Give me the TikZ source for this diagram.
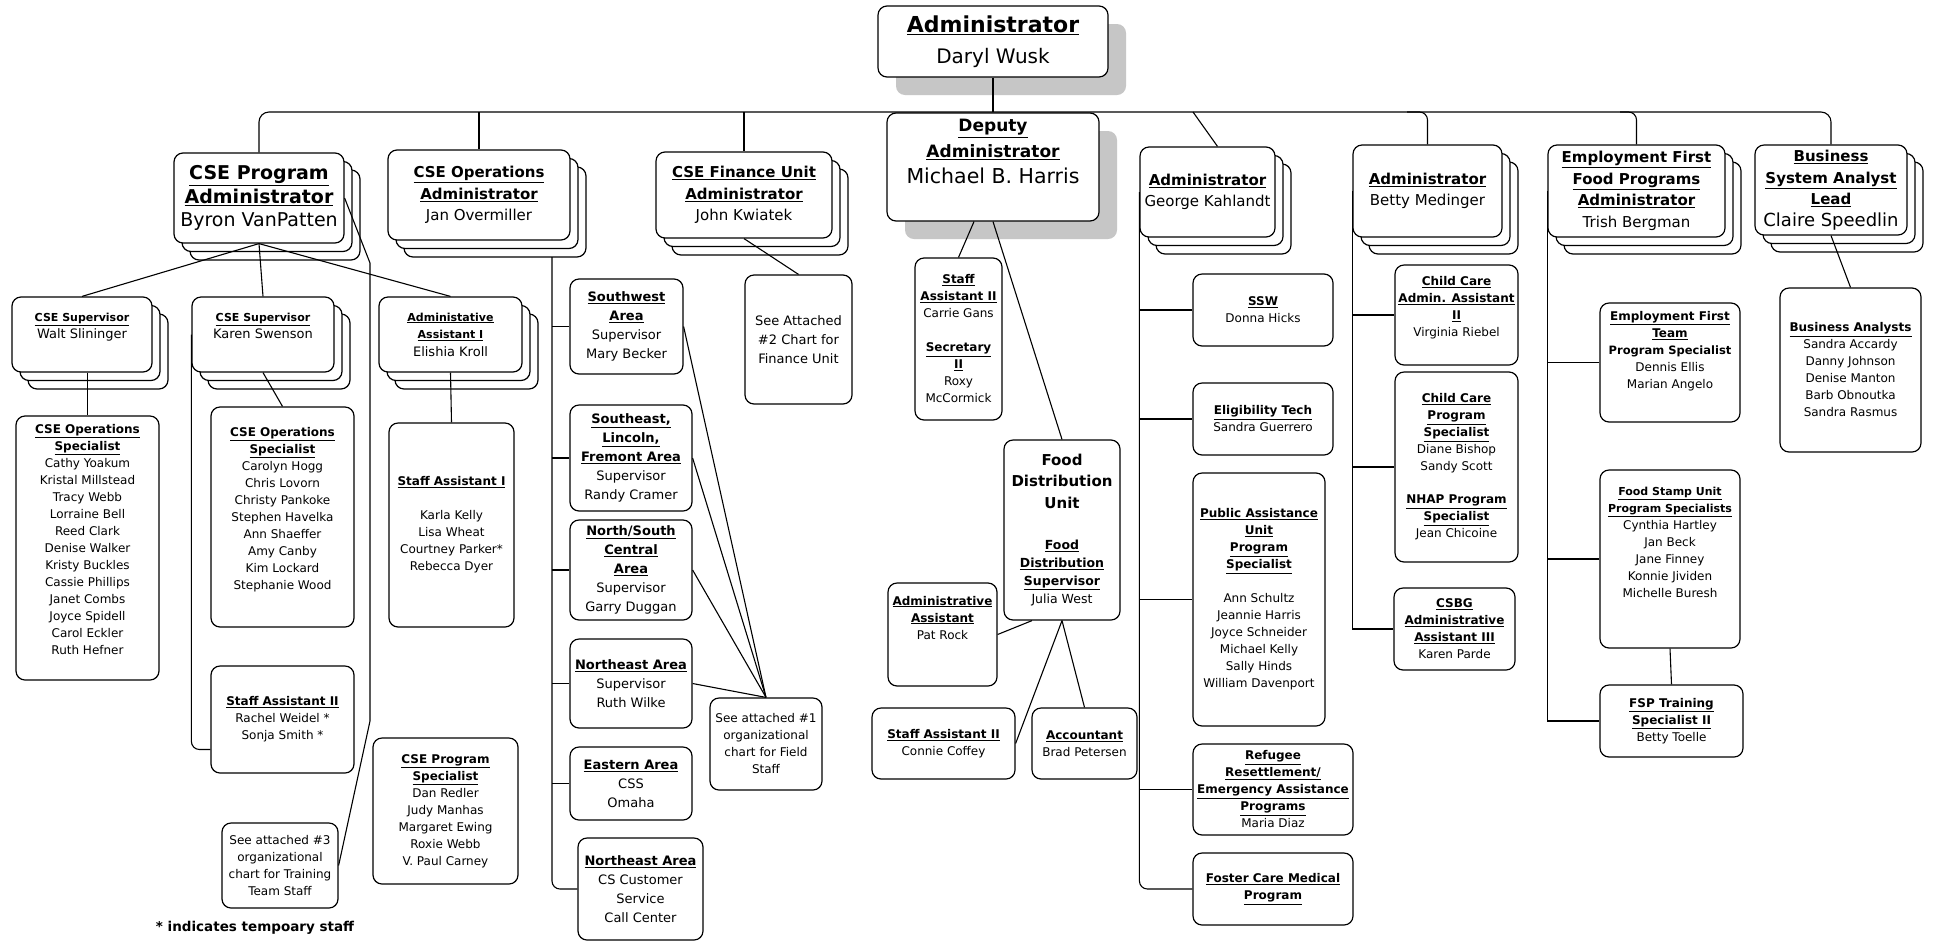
\documentclass[tikz,border=0pt]{standalone}
\usepackage{fontspec}
\setmainfont{DejaVu Sans}
\usetikzlibrary{shadows}
\newcommand{\hd}[1]{\underline{\textbf{#1}}}
\newcommand{\hdat}[2]{{\fontsize{#1}{#1}\selectfont\hd{#2}}}
\newcommand{\bighd}[1]{{\fontsize{15}{18}\selectfont\bfseries #1}}
\begin{document}
\begin{tikzpicture}[x=1pt, y=-1pt,
        box/.style={draw, line width=1.2pt, rounded corners=9pt, fill=white, align=center, inner sep=2pt},
        dims/.style 2 args={minimum width=#1pt, minimum height=#2pt},
        pile/.style={general shadow={shadow xshift=16pt, shadow yshift=-17pt, fill=white, draw, line width=1.2pt},
                     general shadow={shadow xshift=8pt, shadow yshift=-8.5pt, fill=white, draw, line width=1.2pt}},
        lift/.style={drop shadow={shadow xshift=18pt, shadow yshift=-18pt, fill=gray!45, opacity=1}},
        chief/.style={box, font=\fontsize{20}{31}\selectfont},
        lead/.style={box, pile, font=\fontsize{15}{21.5}\selectfont},
        sup/.style={box, pile, font=\fontsize{13}{17.5}\selectfont},
        area/.style={box, font=\fontsize{13}{19}\selectfont},
        unit/.style={box, font=\fontsize{12}{17}\selectfont},
        conn/.style={line width=1.1pt}
    ]
        \fill[white] (0,0) rectangle (1934,946);

        % Top
        \node[chief, lift, dims={230}{71}] (admin) at (993,41.5) {\hdat{22}{Administrator}\\Daryl Wusk};
        \node[chief, lift, dims={212}{108}, font=\fontsize{20.5}{26}\selectfont] (deputy) at (993,167)
            {\hdat{17}{Deputy}\\\hdat{17}{Administrator}\\Michael B. Harris\\[5pt]\mbox{}};

        % Administrators
        \node[lead, dims={170}{90}, font=\fontsize{19}{23.5}\selectfont] (prog) at (259,198) {\hd{CSE Program}\\\hd{Administrator}\\Byron VanPatten};
        \node[lead, dims={182}{90}] (ops) at (479,195) {\hd{CSE Operations}\\\hd{Administrator}\\Jan Overmiller};
        \node[lead, dims={176}{86}] (fin) at (744,195) {\hd{CSE Finance Unit}\\\hd{Administrator}\\John Kwiatek};
        \node[lead, dims={135}{90}] (george) at (1207.5,192) {\hd{Administrator}\\George Kahlandt};
        \node[lead, dims={149}{92}] (betty) at (1427.5,191) {\hd{Administrator}\\Betty Medinger};
        \node[lead, dims={177}{92}] (trish) at (1636.5,191) {\hd{Employment First}\\\hd{Food Programs}\\\hd{Administrator}\\Trish Bergman};
        \node[lead, dims={152}{90}] (claire) at (1831,190) {\hd{Business}\\\hd{System Analyst}\\\hd{Lead}\\{\fontsize{18}{18}\selectfont Claire Speedlin}};

        % CSE Program
        \node[sup, dims={140}{75}] (walt) at (82,334.5) {\hdat{11}{CSE Supervisor}\\Walt Slininger\\\mbox{}};
        \node[sup, dims={142}{75}] (karen) at (263,334.5) {\hdat{11}{CSE Supervisor}\\Karen Swenson\\\mbox{}};
        \node[sup, dims={143}{75}] (eli) at (450.5,334.5) {\hdat{11}{Administative}\\\hdat{11}{Assistant I}\\Elishia Kroll};
        \node[unit, dims={143}{264}] (wspec) at (87.5,548) {\hd{CSE Operations}\\\hd{Specialist}\\Cathy Yoakum\\Kristal Millstead\\Tracy Webb\\Lorraine Bell\\Reed Clark\\Denise Walker\\Kristy Buckles\\Cassie Phillips\\Janet Combs\\Joyce Spidell\\Carol Eckler\\Ruth Hefner\\\mbox{}};
        \node[unit, dims={143}{220}] (kspec) at (282.5,517) {\hd{CSE Operations}\\\hd{Specialist}\\Carolyn Hogg\\Chris Lovorn\\Christy Pankoke\\Stephen Havelka\\Ann Shaeffer\\Amy Canby\\Kim Lockard\\Stephanie Wood\\\mbox{}};
        \node[unit, dims={143}{107}] (sa2) at (282.5,719.5) {\hd{Staff Assistant II}\\Rachel Weidel *\\Sonja Smith *};
        \node[unit, dims={116}{85}] (see3) at (280,865.5) {See attached \#3\\organizational\\chart for Training\\Team Staff};
        \node[unit, dims={125}{204}] (sa1) at (451.5,525) {\hd{Staff Assistant I}\\[17pt]Karla Kelly\\Lisa Wheat\\Courtney Parker*\\Rebecca Dyer};
        \node[unit, dims={145}{146}] (pspec) at (445.5,811) {\hd{CSE Program}\\\hd{Specialist}\\Dan Redler\\Judy Manhas\\Margaret Ewing\\Roxie Webb\\V. Paul Carney};
        \node[font=\fontsize{13.5}{16}\selectfont\bfseries] (note) at (255,928) {* indicates tempoary staff};

        % CSE Operations areas
        \node[area, dims={113}{95}] (sw) at (626.5,326.5) {\hd{Southwest}\\\hd{Area}\\Supervisor\\Mary Becker};
        \node[area, dims={122}{106}] (se) at (631,458) {\hd{Southeast,}\\\hd{Lincoln,}\\\hd{Fremont Area}\\Supervisor\\Randy Cramer};
        \node[area, dims={122}{100}] (ns) at (631,570) {\hd{North/South}\\\hd{Central}\\\hd{Area}\\Supervisor\\Garry Duggan};
        \node[area, dims={122}{89}] (ruth) at (631,683.5) {\hd{Northeast Area}\\Supervisor\\Ruth Wilke};
        \node[area, dims={122}{73}] (eastern) at (631,783.5) {\hd{Eastern Area}\\CSS\\Omaha};
        \node[area, dims={125}{102}] (necs) at (640.5,889) {\hd{Northeast Area}\\CS Customer\\Service\\Call Center};
        \node[unit, dims={112}{92}] (see1) at (766,744) {See attached \#1\\organizational\\chart for Field\\Staff};
        \node[area, dims={107}{129}] (see2) at (798.5,339.5) {See Attached\\\#2 Chart for\\Finance Unit};

        % Deputy staff
        \node[unit, dims={87}{162}] (carrie) at (958.5,339) {\hd{Staff}\\\hd{Assistant II}\\Carrie Gans\\[17pt]\hd{Secretary}\\\hd{II}\\Roxy\\McCormick};
        \node[box, dims={116}{180}, font=\fontsize{12.5}{18}\selectfont] (food) at (1062,530)
            {\bighd{Food}\\[3pt]\bighd{Distribution}\\[4pt]\bighd{Unit}\\[23pt]\hd{Food}\\\hd{Distribution}\\\hd{Supervisor}\\Julia West};
        \node[unit, dims={109}{103}] (pat) at (942.5,634.5) {\hd{Administrative}\\\hd{Assistant}\\Pat Rock\\\mbox{}\\\mbox{}};
        \node[unit, dims={143}{71}] (connie) at (943.5,743.5) {\hd{Staff Assistant II}\\Connie Coffey};
        \node[unit, dims={105}{71}] (acct) at (1084.5,743.5) {\hd{Accountant}\\Brad Petersen};

        % George Kahlandt
        \node[unit, dims={140}{72}] (ssw) at (1263,310) {\hd{SSW}\\Donna Hicks};
        \node[unit, dims={140}{72}] (elig) at (1263,419) {\hd{Eligibility Tech}\\Sandra Guerrero};
        \node[unit, dims={132}{253}] (pub) at (1259,599.5) {\hd{Public Assistance}\\\hd{Unit}\\\hd{Program}\\\hd{Specialist}\\[17pt]Ann Schultz\\Jeannie Harris\\Joyce Schneider\\Michael Kelly\\Sally Hinds\\William Davenport};
        \node[unit, dims={160}{91}] (refugee) at (1273,789.5) {\hd{Refugee}\\\hd{Resettlement/}\\\hd{Emergency Assistance}\\\hd{Programs}\\Maria Diaz};
        \node[unit, dims={160}{72}] (foster) at (1273,889) {\hd{Foster Care Medical}\\\hd{Program}};

        % Betty Medinger
        \node[unit, dims={123}{100}] (ccadmin) at (1456.5,315) {\hd{Child Care}\\\hd{Admin. Assistant}\\\hd{II}\\Virginia Riebel\\\mbox{}};
        \node[unit, dims={123}{190}] (ccprog) at (1456.5,467) {\hd{Child Care}\\\hd{Program}\\\hd{Specialist}\\Diane Bishop\\Sandy Scott\\[16pt]\hd{NHAP Program}\\\hd{Specialist}\\Jean Chicoine};
        \node[unit, dims={121}{82}] (csbg) at (1454.5,629) {\hd{CSBG}\\\hd{Administrative}\\\hd{Assistant III}\\Karen Parde};

        % Trish Bergman
        \node[unit, dims={140}{119}] (eft) at (1670,362.5) {\hd{Employment First}\\\hd{Team}\\{\fontsize{11.5}{17}\selectfont\bfseries Program Specialist}\\Dennis Ellis\\Marian Angelo\\[8pt]\mbox{}};
        \node[unit, dims={140}{178}] (fsu) at (1670,559) {\hdat{11}{Food Stamp Unit}\\\hdat{11}{Program Specialists}\\Cynthia Hartley\\Jan Beck\\Jane Finney\\Konnie Jividen\\Michelle Buresh\\\mbox{}\\\mbox{}};
        \node[unit, dims={143}{72}] (fsp) at (1671.5,721) {\hd{FSP Training}\\\hd{Specialist II}\\Betty Toelle};

        % Claire Speedlin
        \node[unit, dims={141}{164}] (ba) at (1850.5,370) {\hd{Business Analysts}\\Sandra Accardy\\Danny Johnson\\Denise Manton\\Barb Obnoutka\\Sandra Rasmus};

        % Top bar
        \coordinate (bar) at (0,112);
        \coordinate (gk-top) at (1193,112);
        \coordinate (bm-top) at (1407,112);
        \coordinate (ef-top) at (1620,112);
        \draw[conn, rounded corners=10pt] (prog.north) |- (claire.north |- bar) -- (claire.north);
        \draw[conn] (ops.north |- bar) -- (ops.north);
        \draw[conn] (fin.north |- bar) -- (fin.north);
        \draw[conn] (admin.south) -- (deputy.north);
        \draw[conn] (gk-top) -- ([xshift=10pt]george.north);
        \draw[conn, rounded corners=8pt] (bm-top) -| (betty.north);
        \draw[conn, rounded corners=8pt] (ef-top) -| (trish.north);

        % CSE Program links
        \coordinate (tr1) at (370,263);
        \coordinate (tr2) at (370,721);
        \foreach \nm in {walt,karen,eli} \draw[conn] (prog.south) -- (\nm.north);
        \draw[conn] (wspec.north |- walt.south) -- (wspec.north);
        \draw[conn] (karen.south) -- (kspec.north);
        \draw[conn] (eli.south) -- (sa1.north);
        \draw[conn, rounded corners=8pt] (karen.west) |- ([yshift=-30pt]sa2.west);
        \draw[conn] (prog.east) -- (tr1) -- (tr2) -- (see3.east);

        % CSE Operations links
        \coordinate (opsv) at (552,257);
        \draw[conn, rounded corners=8pt] (opsv) |- (necs.west);
        \foreach \nm in {sw,se,ns,ruth,eastern} \draw[conn] (\nm.west -| opsv) -- (\nm.west);
        \foreach \nm in {sw,se,ns,ruth} \draw[conn] (\nm.east) -- (see1.north);
        \draw[conn] (fin.south) -- (see2.north);

        % Deputy links
        \draw[conn] ([xshift=-19pt]deputy.south) -- (carrie.north);
        \draw[conn] (deputy.south) -- (food.north);
        \draw[conn] ([xshift=-30pt]food.south) -- (pat.east);
        \draw[conn] (food.south) -- (connie.east);
        \draw[conn] (food.south) -- (acct.north);

        % George Kahlandt links
        \draw[conn, rounded corners=8pt] (george.west) |- (foster.west);
        \foreach \nm in {ssw,elig,pub,refugee} \draw[conn] (\nm.west -| george.west) -- (\nm.west);

        % Betty Medinger links
        \draw[conn] (betty.west) |- (csbg.west);
        \foreach \nm in {ccadmin,ccprog} \draw[conn] (\nm.west -| betty.west) -- (\nm.west);

        % Trish Bergman links
        \draw[conn] (trish.west) |- (fsp.west);
        \foreach \nm in {eft,fsu} \draw[conn] (\nm.west -| trish.west) -- (\nm.west);
        \draw[conn] (fsu.south) -- (fsp.north);

        % Claire Speedlin link
        \draw[conn] (claire.south) -- (ba.north);
    \end{tikzpicture}
\end{document}
